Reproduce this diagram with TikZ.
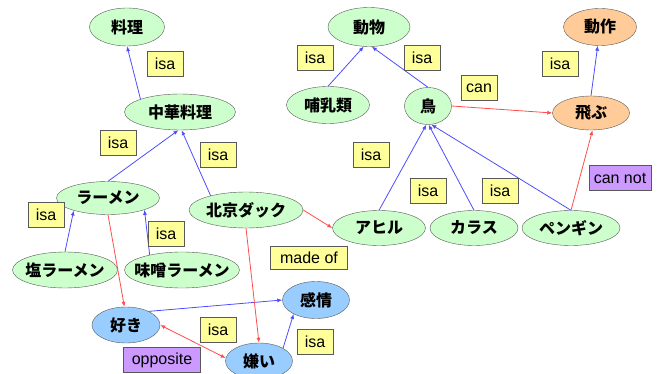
\documentclass[tikz,border=0pt]{standalone}
\usepackage{fontspec}
\setmainfont{Liberation Sans}
\newfontfamily\jpfont{Noto Sans CJK JP}
\usetikzlibrary{shapes.geometric,arrows.meta}
\definecolor{conceptgreen}{HTML}{CCFFCC}
\definecolor{actionorange}{HTML}{FFCC99}
\definecolor{feelblue}{HTML}{99CCFF}
\definecolor{labelyellow}{HTML}{FFFF99}
\definecolor{labelpurple}{HTML}{CC99FF}
\definecolor{isablue}{HTML}{4D4DFF}
\definecolor{relred}{HTML}{FF4D4D}

\begin{document}
\begin{tikzpicture}[x=1pt, y=-1pt,
    concept/.style={ellipse, draw=gray!70!black, inner xsep=-9pt, inner ysep=-3pt, font=\jpfont\bfseries\fontsize{16}{18}\selectfont},
    tag/.style={draw=gray!70!black, inner sep=0pt, minimum height=25pt, font=\fontsize{16}{18}\selectfont},
    isaline/.style={-{Latex[length=5pt,width=4pt]}, draw=isablue, line width=0.8pt},
    relline/.style={-{Latex[length=5pt,width=4pt]}, draw=relred, line width=0.8pt}]
    \useasboundingbox (0,0) rectangle (658,374);

    % concepts
    \node[concept, fill=conceptgreen, minimum width=75pt, minimum height=38pt] (ryori) at (127,27) {料理};
    \node[concept, fill=conceptgreen, minimum width=111pt, minimum height=36pt] (chuka) at (180,112) {中華料理};
    \node[concept, fill=conceptgreen, minimum width=82pt, minimum height=39pt] (dobutsu) at (369,27) {動物};
    \node[concept, fill=actionorange, minimum width=73pt, minimum height=37pt] (dosa) at (600,27) {動作};
    \node[concept, fill=conceptgreen, minimum width=83pt, minimum height=37pt] (honyu) at (328,105) {哺乳類};
    \node[concept, fill=conceptgreen, minimum width=47pt, minimum height=37pt] (tori) at (428,106) {鳥};
    \node[concept, fill=actionorange, minimum width=77pt, minimum height=34pt] (tobu) at (591,113) {飛ぶ};
    \node[concept, fill=conceptgreen, minimum width=103pt, minimum height=33pt] (ramen) at (108,198) {ラーメン};
    \node[concept, fill=conceptgreen, minimum width=114pt, minimum height=36pt] (peking) at (246,210) {北京ダック};
    \node[concept, fill=conceptgreen, minimum width=105pt, minimum height=36pt] (shio) at (65,270) {塩ラーメン};
    \node[concept, fill=conceptgreen, minimum width=115pt, minimum height=36pt] (miso) at (182,270) {味噌ラーメン};
    \node[concept, fill=conceptgreen, minimum width=93pt, minimum height=35pt] (ahiru) at (379,228) {アヒル};
    \node[concept, fill=conceptgreen, minimum width=88pt, minimum height=35pt] (karasu) at (474,228) {カラス};
    \node[concept, fill=conceptgreen, minimum width=98pt, minimum height=35pt] (pengin) at (571,228) {ペンギン};
    \node[concept, fill=feelblue, minimum width=68pt, minimum height=36pt] (suki) at (126,325) {好き};
    \node[concept, fill=feelblue, minimum width=67pt, minimum height=37pt] (kanjo) at (316,300) {感情};
    \node[concept, fill=feelblue, minimum width=67pt, minimum height=36pt] (kirai) at (259,361) {嫌い};

    % isa links
    \draw[isaline] (chuka.162) -- (ryori.south);
    \draw[isaline] (ramen.north) -- (chuka.-95);
    \draw[isaline] (peking.158) -- (chuka.-85);
    \draw[isaline] (honyu.north) -- (dobutsu.-105);
    \draw[isaline] (tori.north) -- (dobutsu.-82);
    \draw[isaline] (tobu.north) -- (dosa.-97);
    \draw[isaline] (ahiru.north) -- (tori.-95);
    \draw[isaline] (karasu.north) -- (tori.-88);
    \draw[isaline] (pengin.north) -- (tori.-80);
    \draw[isaline] (shio.north) -- (ramen.-160);
    \draw[isaline] (miso.155) -- (ramen.-18);
    \draw[isaline] (suki.31) -- (kanjo.west);
    \draw[isaline] (kirai.28) -- (kanjo.-148);

    % other links
    \draw[relline] (tori.east) -- (tobu.west);
    \draw[relline] (pengin.north) -- (tobu.-85);
    \draw[relline] (ramen.south) -- (suki.95);
    \draw[relline] (peking.east) -- (ahiru.west);
    \draw[relline] (peking.south) -- (kirai.north);
    \draw[relline, {Latex[length=5pt,width=4pt]}-{Latex[length=5pt,width=4pt]}] (suki.east) -- (kirai.175);

    % link labels
    \node[tag, fill=labelyellow, minimum width=36pt] (l1) at (165,64) {isa};
    \node[tag, fill=labelyellow, minimum width=36pt] (l2) at (118,143) {isa};
    \node[tag, fill=labelyellow, minimum width=36pt] (l3) at (218,155) {isa};
    \node[tag, fill=labelyellow, minimum width=36pt] (l4) at (315,58) {isa};
    \node[tag, fill=labelyellow, minimum width=36pt] (l5) at (422,58) {isa};
    \node[tag, fill=labelyellow, minimum width=36pt] (l6) at (560,64) {isa};
    \node[tag, fill=labelyellow, minimum width=36pt] (l7) at (479,88) {can};
    \node[tag, fill=labelyellow, minimum width=36pt] (l8) at (371,155) {isa};
    \node[tag, fill=labelpurple, minimum width=62pt] (l9) at (620,178) {can not};
    \node[tag, fill=labelyellow, minimum width=36pt] (l10) at (428,191) {isa};
    \node[tag, fill=labelyellow, minimum width=36pt] (l11) at (500,191) {isa};
    \node[tag, fill=labelyellow, minimum width=36pt] (l12) at (46,215) {isa};
    \node[tag, fill=labelyellow, minimum width=36pt] (l13) at (166,234) {isa};
    \node[tag, fill=labelyellow, minimum width=77pt, minimum height=23pt] (l14) at (309,258) {made of};
    \node[tag, fill=labelyellow, minimum width=36pt] (l15) at (218,330) {isa};
    \node[tag, fill=labelyellow, minimum width=36pt] (l16) at (315,342) {isa};
    \node[tag, fill=labelpurple, minimum width=77pt] (l17) at (162,360) {opposite};
\end{tikzpicture}
\end{document}
